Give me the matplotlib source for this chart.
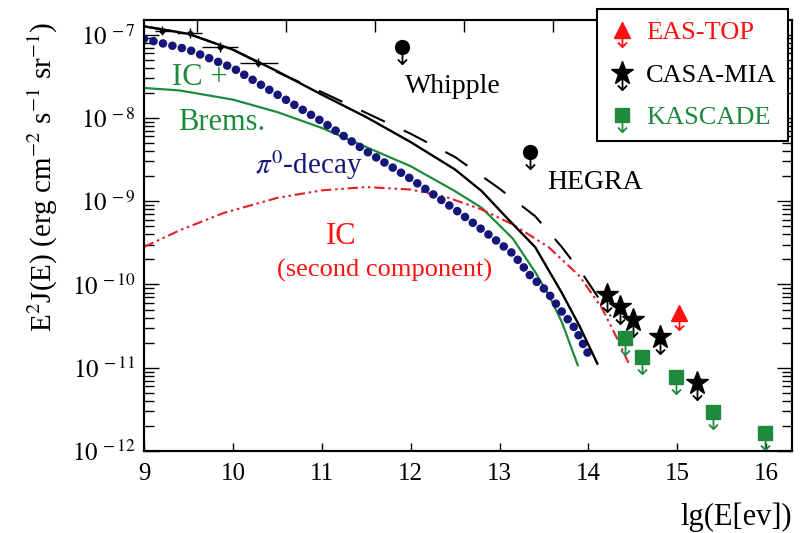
import numpy as np
import matplotlib
matplotlib.use("Agg")
import matplotlib.pyplot as plt
from matplotlib.path import Path
from matplotlib.legend_handler import HandlerTuple

plt.rcParams['font.family'] = ['Liberation Serif', 'DejaVu Serif']
plt.rcParams['mathtext.fontset'] = 'stix'

# model curves: lg(E[eV]) vs lg(E^2 J)
tot_x = [9.0, 9.5, 10.0, 10.5, 11.0, 11.5, 12.0, 12.5, 12.8, 13.1, 13.4, 13.7, 13.9, 14.1]
tot_y = [-6.90, -6.99, -7.18, -7.44, -7.72, -7.99, -8.29, -8.62, -8.88, -9.22, -9.55, -10.10, -10.50, -10.95]

tot2_x = [9.0, 9.5, 10.0, 10.5, 11.0, 11.5, 12.0, 12.5, 13.0, 13.4, 13.7, 13.95, 14.25]
tot2_y = [-6.90, -6.99, -7.18, -7.45, -7.69, -7.94, -8.19, -8.47, -8.85, -9.18, -9.55, -9.90, -10.38]

pi0_x = [9.0, 9.5, 10.0, 10.5, 11.0, 11.5, 12.0, 12.5, 12.9, 13.15, 13.35, 13.53, 13.71, 13.85, 14.02]
pi0_y = [-7.05, -7.18, -7.40, -7.72, -8.04, -8.40, -8.73, -9.10, -9.42, -9.63, -9.90, -10.08, -10.34, -10.53, -10.88]

icb_x = [9.0, 9.4, 10.0, 10.5, 11.0, 11.5, 12.0, 12.5, 12.8, 13.15, 13.4, 13.55, 13.7, 13.88]
icb_y = [-7.64, -7.67, -7.78, -7.93, -8.12, -8.35, -8.58, -8.88, -9.08, -9.45, -9.85, -10.12, -10.45, -10.97]

ic2_x = [9.0, 9.4, 9.9, 10.5, 11.0, 11.5, 12.0, 12.4, 12.8, 13.15, 13.55, 13.9, 14.15, 14.3, 14.45]
ic2_y = [-9.55, -9.35, -9.14, -8.96, -8.87, -8.83, -8.86, -8.95, -9.10, -9.28, -9.55, -9.90, -10.28, -10.60, -10.94]

# low energy measurements
egret_x = [9.2, 9.52, 9.85, 10.28]
egret_xlo = [9.12, 9.37, 9.65, 10.08]
egret_xhi = [9.37, 9.65, 10.06, 10.51]
egret_y = [1.12e-7, 1.05e-7, 7.1e-8, 4.6e-8]

# upper limits
whipple_x, whipple_y = [11.9], [7.2e-8]
hegra_x, hegra_y = [13.34], [3.9e-9]
eastop_x, eastop_y = [15.02], [4.5e-11]
casa_x = [14.21, 14.35, 14.5, 14.8, 15.22]
casa_y = [7.4e-11, 5.3e-11, 3.7e-11, 2.35e-11, 6.6e-12]
kas_x = [14.41, 14.6, 14.98, 15.4, 15.99]
kas_y = [2.3e-11, 1.35e-11, 7.8e-12, 2.9e-12, 1.65e-12]

green = '#1e8a3c'
navy = '#16167a'
red = '#ff1010'

# down arrow marker hanging below the point
arrow = Path([(0, 1), (0, 0), (0, -1), (-0.27, -0.72), (0, -1), (0.27, -0.72)],
             [Path.MOVETO, Path.MOVETO, Path.LINETO, Path.MOVETO, Path.LINETO, Path.LINETO])

fig = plt.figure(figsize=(8.02, 5.33), dpi=100)
ax = fig.add_axes([144 / 802, 82 / 533, 648 / 802, 431 / 533])

p = lambda v: 10 ** np.array(v)
ax.plot(icb_x, p(icb_y), color=green, lw=1.6, zorder=2)
ax.plot(ic2_x, p(ic2_y), color='#e41e24', lw=1.5, ls=(0, (5, 1.8, 1.2, 1.8, 1.2, 1.8)), zorder=2)
ax.plot(pi0_x, p(pi0_y), color=navy, lw=6.2, ls=(0, (0.01, 1.12)), dash_capstyle='round', zorder=3)
ax.plot(tot2_x, p(tot2_y), color='k', lw=1.5, ls=(0, (12.5, 10)), zorder=4)
ax.plot(tot_x, p(tot_y), color='k', lw=1.7, zorder=4)

egret_y = np.array(egret_y)
ax.errorbar(egret_x, egret_y,
            xerr=[np.subtract(egret_x, egret_xlo), np.subtract(egret_xhi, egret_x)],
            yerr=[egret_y * 0.12, egret_y * 0.14], fmt='o', ms=3, color='k',
            elinewidth=1.0, capsize=0, zorder=5)


def upper(x, y, marker, ms, color):
    a, = ax.plot(x, y, ls='none', marker=arrow, ms=24, mfc='none', mec=color, mew=1.3, zorder=6)
    m, = ax.plot(x, y, ls='none', marker=marker, ms=ms, color=color, mec=color, zorder=7)
    return a, m


upper(whipple_x, whipple_y, 'o', 10, 'k')
upper(hegra_x, hegra_y, 'o', 10, 'k')
h_eas = upper(eastop_x, eastop_y, '^', 12, red)
h_casa = upper(casa_x, casa_y, '*', 17, 'k')
h_kas = upper(kas_x, kas_y, 's', 10, green)

ax.set_yscale('log')
ax.set_xlim(9, 16.29)
ax.set_ylim(1e-12, 1.5e-7)
ax.set_xticks(range(9, 17))
ax.set_yticks([1e-12, 1e-11, 1e-10, 1e-9, 1e-8, 1e-7])
ax.set_yticklabels([r'$10^{\,-%d}$' % k for k in range(12, 6, -1)])
ax.tick_params(axis='y', which='major', direction='in', length=11, width=1, right=True, labelsize=18, pad=6)
ax.tick_params(axis='y', which='minor', direction='in', length=7, width=1, right=True)
ax.tick_params(axis='x', which='major', direction='in', length=6, width=1, labelsize=18, pad=9)
for s in ax.spines.values():
    s.set_linewidth(1.5)

ax.set_xlabel('lg(E[ev])', fontsize=22, loc='right')
ax.xaxis.set_label_coords(1.0, -0.12)
ax.set_ylabel(r'E$^2$J(E) (erg cm$^{-2}$ s$^{-1}$ sr$^{-1}$)', fontsize=21)
ax.yaxis.set_label_coords(-0.13, 0.636)

top = ax.twiny()
top.set_xlim(ax.get_xlim())
top.set_xticks(np.arange(9.6, 16.3, 1.0))
top.tick_params(axis='x', direction='in', length=8.5, width=1, labeltop=False)
for s in top.spines.values():
    s.set_linewidth(1.5)

ax.text(11.94, 10 ** -7.62, 'Whipple', fontsize=20, va='center', ha='left')
ax.text(13.54, 10 ** -8.78, 'HEGRA', fontsize=20, va='center', ha='left')
ax.text(9.31, 10 ** -7.51, 'IC +', fontsize=22, color=green, va='center', ha='left')
ax.text(9.38, 10 ** -8.05, 'Brems.', fontsize=22, color=green, va='center', ha='left')
ax.text(10.25, 10 ** -8.57, r'$\pi^0$-decay', fontsize=21, color=navy, va='center', ha='left')
ax.text(11.22, 10 ** -9.42, 'IC', fontsize=22, color=red, va='center', ha='center')
ax.text(11.71, 10 ** -9.83, '(second component)', fontsize=19, color=red, va='center', ha='center')

leg = fig.legend([h_eas, h_casa, h_kas], ['EAS-TOP', 'CASA-MIA', 'KASCADE'],
                 handler_map={tuple: HandlerTuple(ndivide=1)},
                 loc='upper left', bbox_to_anchor=(597 / 802, 1 - 9 / 533),
                 fontsize=19, frameon=True, fancybox=False, framealpha=1,
                 edgecolor='k', borderpad=0.45, labelspacing=0.72,
                 handlelength=1.0, handletextpad=0.4, borderaxespad=0)
leg.get_frame().set_linewidth(1.5)
for t, c in zip(leg.get_texts(), [red, 'k', green]):
    t.set_color(c)

fig.savefig('out.png', dpi=100)
